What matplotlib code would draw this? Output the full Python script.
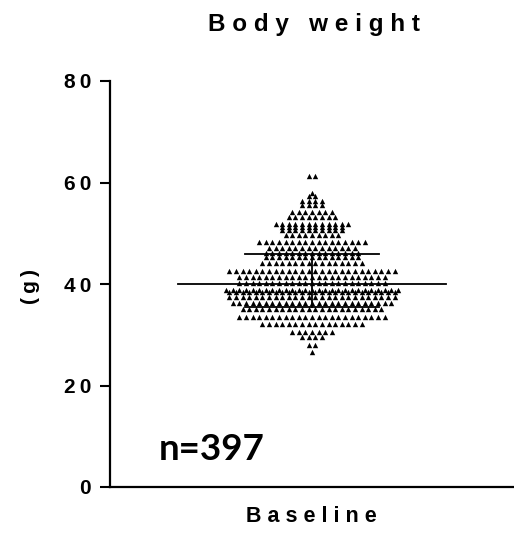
import numpy as np
import matplotlib
matplotlib.use("Agg")
import matplotlib.pyplot as plt
from matplotlib.transforms import blended_transform_factory

# body weight rows (g) and how many animals sit in each row
weight_rows = [61.2, 57.9, 57.3, 56.4, 55.5, 54.2, 53.3, 51.9, 51.2, 50.6,
               49.6, 48.3, 47.0, 46.1, 45.3, 44.1, 42.6, 41.4, 40.2, 38.9,
               38.4, 37.5, 36.2, 35.0, 33.5, 32.2, 30.6, 29.6, 28.0, 26.6]
row_counts = [2, 1, 2, 4, 4, 7, 8, 12, 10, 10,
              9, 17, 14, 15, 15, 16, 26, 23, 23, 27,
              26, 26, 25, 22, 23, 16, 7, 4, 2, 1]
# median and interquartile range (g)
median_g = 40.0
q1_g, q3_g = 35.5, 46.0
y_ticks = [0, 20, 40, 60, 80]
group_label = "Baseline"
title = "Body weight"
unit_label = "(g)"

n = int(np.sum(row_counts))

fig = plt.figure(figsize=(5.14, 5.34), dpi=100)
ax = fig.add_axes([110 / 514, 47 / 534, 404 / 514, 406 / 534])

# lay each row out side by side around the group centre
step = 0.0327
xs, ys = [], []
for w, c in zip(weight_rows, row_counts):
    for i in range(c):
        xs.append((i - (c - 1) / 2) * step)
        ys.append(w)
ax.scatter(xs, ys, marker="^", s=15, color="black", linewidths=0, zorder=3)

# median line with interquartile bar
ax.plot([-0.663, 0.663], [median_g, median_g], color="black", lw=1.3, zorder=4)
ax.plot([-0.334, 0.334], [q3_g, q3_g], color="black", lw=1.3, zorder=4)
ax.plot([-0.334, 0.334], [q1_g, q1_g], color="black", lw=1.3, zorder=4)
ax.plot([0, 0], [q1_g, q3_g], color="black", lw=1.3, zorder=4)

ax.set_xlim(-1, 1)
ax.set_ylim(0, 80)
ax.set_xticks([])
ax.set_yticks(y_ticks)
spaced = ["\u2009".join(str(t)) for t in y_ticks]
ax.set_yticklabels(spaced, fontfamily="Liberation Sans", fontweight="bold",
                   fontsize=15)
ax.tick_params(axis="y", length=7.5, width=1.5, pad=6)
for side in ["top", "right"]:
    ax.spines[side].set_visible(False)
for side in ["left", "bottom"]:
    ax.spines[side].set_linewidth(1.6)

fig.text(314 / 514, 1 - 25 / 534, " ".join(title),
         ha="center", va="center", fontfamily="Liberation Sans",
         fontweight="bold", fontsize=17.5)
fig.text(311 / 514, 1 - 517 / 534, " ".join(group_label),
         ha="center", va="center", fontfamily="Liberation Sans",
         fontweight="bold", fontsize=15.5)
fig.text(31 / 514, 1 - 287 / 534, "\u2009".join(unit_label), rotation=90,
         ha="center", va="center", fontfamily="Liberation Sans",
         fontweight="bold", fontsize=15)

ax.text(0.121, 5.3, "n=%d" % n,
        transform=blended_transform_factory(ax.transAxes, ax.transData),
        ha="left", va="baseline", fontfamily="Lato", fontweight="bold",
        fontsize=26.5)

fig.savefig("out.png", dpi=100)
